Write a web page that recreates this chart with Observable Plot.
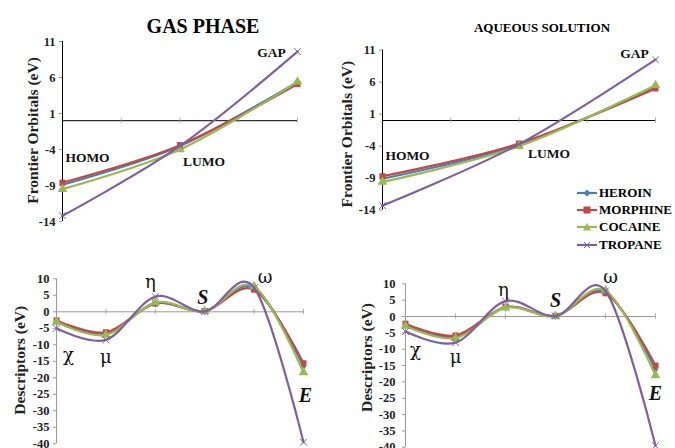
<!DOCTYPE html>
<html>
<head>
<meta charset="utf-8">
<script src="https://cdn.jsdelivr.net/npm/d3@7"></script>
<script src="https://cdn.jsdelivr.net/npm/@observablehq/plot@0.6"></script>
<style>
  html, body { margin: 0; padding: 0; background: #fff; }
  #root { position: relative; width: 675px; height: 448px; overflow: hidden; font-family: "Liberation Serif", "Times New Roman", serif; }
  .panel { position: absolute; }
  .title { position: absolute; font-weight: bold; white-space: nowrap; transform: translateX(-50%); font-family: "Liberation Serif", serif; }
  #legend { position: absolute; left: 577px; top: 184px; font-weight: bold; font-size: 13px; font-family: "Liberation Serif", serif; }
  #legend .row { display: flex; align-items: center; height: 17.3px; }
  #legend svg { margin-right: 2px; }
</style>
</head>
<body>
<div id="root">
  <div class="title" style="left:203px; top:15px; font-size:20px;">GAS PHASE</div>
  <div class="title" style="left:542px; top:20px; font-size:13px;">AQUEOUS SOLUTION</div>
  <div id="legend"></div>
</div>
<script>
// ---------- data ----------
const seriesNames = ["HEROIN", "MORPHINE", "COCAINE", "TROPANE"];
const orbitalCats = ["HOMO", "LUMO", "GAP"];
const descriptorCats = ["χ", "μ", "η", "S", "ω", "E"];

// Frontier orbitals (eV), gas phase
const gasHeroin   = [-8.9, -3.5, 5.4];
const gasMorphine = [-8.6, -3.4, 5.1];
const gasCocaine  = [-9.5, -4.0, 5.4];
const gasTropane  = [-13.2, -3.5, 9.6];

// Frontier orbitals (eV), aqueous solution
const aqHeroin   = [-9.1, -3.8, 5.3];
const aqMorphine = [-8.7, -3.6, 5.0];
const aqCocaine  = [-9.6, -4.0, 5.5];
const aqTropane  = [-13.3, -3.7, 9.5];

// Descriptors (eV), gas phase
const gasDescHeroin   = [-3.0, -6.6, 2.6, 0.2, 7.3, -16.6];
const gasDescMorphine = [-2.6, -6.2, 2.5, 0.2, 6.7, -15.6];
const gasDescCocaine  = [-3.1, -7.0, 2.8, 0.2, 7.7, -18.4];
const gasDescTropane  = [-5.0, -8.5, 4.6, 0.1, 7.3, -39.5];

// Descriptors (eV), aqueous solution
const aqDescHeroin   = [-2.6, -6.2, 2.8, 0.2, 7.4, -16.2];
const aqDescMorphine = [-2.2, -5.8, 2.9, 0.2, 7.1, -15.0];
const aqDescCocaine  = [-2.9, -6.6, 2.7, 0.1, 7.9, -18.0];
const aqDescTropane  = [-4.6, -8.0, 4.7, 0.1, 7.8, -39.5];

const orbitalTicks = [11, 6, 1, -4, -9, -14];
const descriptorTicks = [10, 5, 0, -5, -10, -15, -20, -25, -30, -35, -40];

// annotation placement (value-space y, pixel dx)
const gasOrbitalLabelY  = [-5.1, -5.7, 9.4];
const gasOrbitalLabelDx = [25, 24, -26];
const aqOrbitalLabelY   = [-5.5, -5.2, 10.5];
const aqOrbitalLabelDx  = [25, 30, -21];
const gasDescLabelY  = [-13.2, -13.8, 8.9, 4.3, 10.4, -25.3];
const gasDescLabelDx = [12, 0, -5, -2, 11, 2];
const aqDescLabelY   = [-10.4, -12.5, 8.0, 4.9, 11.9, -23.5];
const aqDescLabelDx  = [10, 0, -2, 0, 5, 0];

// ---------- styling ----------
const colors = {HEROIN: "#4a7ebb", MORPHINE: "#be4b48", COCAINE: "#98b954", TROPANE: "#7d60a0"};
const symbols = {HEROIN: "diamond", MORPHINE: "square", COCAINE: "triangle", TROPANE: "times"};
const radius = {HEROIN: 2.6, MORPHINE: 3.4, COCAINE: 3.6, TROPANE: 3.2};
const SERIF = "Liberation Serif";
const GREEK = "DejaVu Serif";

function toRows(seriesArrays) {
  return seriesNames.flatMap((s, k) => seriesArrays[k].map((v, i) => ({s, i, v})));
}

function panel({left, top, width, height, margins, cats, seriesArrays, yDomain, yTicks,
                axisColor, zeroColor, xTickPositions, xTickHalf, yLabel, yLabelDx, yLabelDy, yLabelSize,
                labelY, labelDx, labelStyle, tickPadding}) {
  const rows = toRows(seriesArrays);
  const marks = [
    Plot.ruleY([0], {stroke: zeroColor, strokeWidth: 1}),
    Plot.ruleX(xTickPositions, {x: d => d, y1: -xTickHalf, y2: xTickHalf, stroke: "#999", strokeWidth: 0.8}),
    Plot.ruleX([0], {stroke: axisColor, strokeWidth: 1}),
    Plot.axisY({ticks: yTicks, tickSize: 3, tickPadding, tickFormat: d => String(d), stroke: "#999",
                fontSize: 12.5, fontWeight: "bold", fill: "#222", fontFamily: SERIF, label: null}),
    Plot.text([yLabel], {frameAnchor: "left", textAnchor: "middle", text: d => d, rotate: -90, dx: yLabelDx, dy: yLabelDy,
                fontSize: yLabelSize, fontWeight: "bold", fill: "#222", fontFamily: SERIF})
  ];
  for (const s of seriesNames) {
    const data = rows.filter(r => r.s === s);
    marks.push(Plot.line(data, {x: "i", y: "v", stroke: colors[s], strokeWidth: 2.2, curve: "cardinal", tension: 0}));
    if (symbols[s] === "times") {
      marks.push(Plot.dot(data, {x: "i", y: "v", symbol: "times", r: radius[s], stroke: colors[s], strokeWidth: 1}));
    } else {
      marks.push(Plot.dot(data, {x: "i", y: "v", symbol: symbols[s], r: radius[s], fill: colors[s], stroke: "none"}));
    }
  }
  cats.forEach((c, i) => {
    const st = labelStyle(c);
    marks.push(Plot.text([c], {x: () => i, y: () => labelY[i], text: d => d, dx: labelDx[i],
      fontSize: st.size, fontWeight: st.weight, fontStyle: st.style, fill: "#111", fontFamily: st.family}));
  });
  const chart = Plot.plot({
    width, height,
    marginLeft: margins[0], marginRight: margins[1], marginTop: margins[2], marginBottom: margins[3],
    x: {domain: [0, cats.length - 1], axis: null},
    y: {domain: yDomain, axis: null},
    style: {fontFamily: SERIF, background: "transparent", overflow: "visible"},
    marks
  });
  const wrap = document.createElement("div");
  wrap.className = "panel";
  wrap.style.left = left + "px";
  wrap.style.top = top + "px";
  wrap.appendChild(chart);
  document.getElementById("root").appendChild(wrap);
}

const orbitalStyle = () => ({size: 13.5, weight: "bold", style: "normal", family: SERIF});
const descStyle = c => (c === "S" || c === "E")
  ? {size: 20, weight: "bold", style: "italic", family: SERIF}
  : {size: 18, weight: "normal", style: "normal", family: GREEK};

panel({left: 0, top: 0, width: 330, height: 230, margins: [62, 33, 41, 9],
  cats: orbitalCats, seriesArrays: [gasHeroin, gasMorphine, gasCocaine, gasTropane],
  yDomain: [-14, 11], yTicks: orbitalTicks, axisColor: "#000", zeroColor: "#000",
  xTickPositions: [0.5, 1, 1.5, 2], xTickHalf: 0.35,
  yLabel: "Frontier Orbitals (eV)", yLabelDx: -29, yLabelDy: -1, yLabelSize: 15.5,
  labelY: gasOrbitalLabelY, labelDx: gasOrbitalLabelDx, labelStyle: orbitalStyle, tickPadding: 4});

panel({left: 330, top: 0, width: 345, height: 230, margins: [52, 20, 49.6, 20.4],
  cats: orbitalCats, seriesArrays: [aqHeroin, aqMorphine, aqCocaine, aqTropane],
  yDomain: [-14, 11], yTicks: orbitalTicks, axisColor: "#000", zeroColor: "#000",
  xTickPositions: [0.5, 1, 1.5, 2], xTickHalf: 0.4,
  yLabel: "Frontier Orbitals (eV)", yLabelDx: -35, yLabelDy: 4, yLabelSize: 15.5,
  labelY: aqOrbitalLabelY, labelDx: aqOrbitalLabelDx, labelStyle: orbitalStyle, tickPadding: 4});

panel({left: 0, top: 255, width: 330, height: 193, margins: [56, 27, 23.3, 4.7],
  cats: descriptorCats, seriesArrays: [gasDescHeroin, gasDescMorphine, gasDescCocaine, gasDescTropane],
  yDomain: [-40, 10], yTicks: descriptorTicks, axisColor: "#999", zeroColor: "#999",
  xTickPositions: [1, 2, 3, 4, 5], xTickHalf: 0.8,
  yLabel: "Descriptors (eV)", yLabelDx: -36, yLabelDy: -1, yLabelSize: 15.5,
  labelY: gasDescLabelY, labelDx: gasDescLabelDx, labelStyle: descStyle, tickPadding: 4});

panel({left: 340, top: 255, width: 335, height: 193, margins: [65, 20, 28.3, 1.2],
  cats: descriptorCats, seriesArrays: [aqDescHeroin, aqDescMorphine, aqDescCocaine, aqDescTropane],
  yDomain: [-40, 10], yTicks: descriptorTicks, axisColor: "#999", zeroColor: "#999",
  xTickPositions: [1, 2, 3, 4, 5], xTickHalf: 0.8,
  yLabel: "Descriptors (eV)", yLabelDx: -38, yLabelDy: -8, yLabelSize: 15.5,
  labelY: aqDescLabelY, labelDx: aqDescLabelDx, labelStyle: descStyle, tickPadding: 7});

// ---------- legend ----------
const legend = document.getElementById("legend");
const symPaths = {
  HEROIN: '<path d="M10,3.5L13.5,7L10,10.5L6.5,7Z" fill="COL"/>',
  MORPHINE: '<rect x="6.5" y="3.5" width="7" height="7" fill="COL"/>',
  COCAINE: '<path d="M10,3L14,10.5L6,10.5Z" fill="COL"/>',
  TROPANE: '<path d="M7,4L13,10M13,4L7,10" stroke="COL" stroke-width="1"/>'
};
for (const s of seriesNames) {
  const row = document.createElement("div");
  row.className = "row";
  row.innerHTML = `<svg width="20" height="14"><line x1="0" y1="7" x2="20" y2="7" stroke="${colors[s]}" stroke-width="2.2"/>${symPaths[s].replace(/COL/g, colors[s])}</svg><span>${s}</span>`;
  legend.appendChild(row);
}
</script>
</body>
</html>
